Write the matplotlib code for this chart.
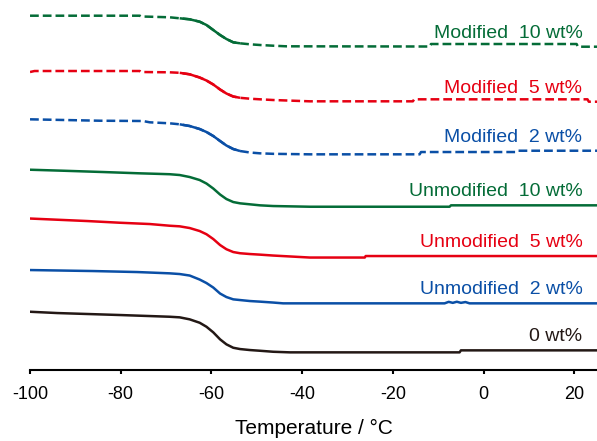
import matplotlib
matplotlib.use('Agg')
import matplotlib.pyplot as plt

plt.rcParams['font.family'] = ['Liberation Sans', 'DejaVu Sans']
plt.rcParams['axes.unicode_minus'] = False

# DSC traces, heat flow in arbitrary units (curves already offset)
t_0 = [-100, -94, -80, -73.6, -69.2, -67.0, -64.8, -62.6, -61.1, -59.6,
       -58.1, -56.7, -55.2, -53.7, -51.5, -49.3, -46.4, -42.7, -5.3, -5.0, 25]
hf_0 = [88.3, 87, 85, 84, 83.3, 82.7, 80.7, 77.3, 73.3, 67.7,
        60.7, 55.7, 52.3, 51, 50, 49.3, 48.3, 47.7, 47.7, 49.7, 49.7]

t_un2 = [-100, -86.1, -76.4, -73.6, -69.2, -67.0, -64.8, -62.6, -61.1, -59.6,
         -58.1, -56.7, -55.2, -53.7, -51.5, -49.3, -46.4, -44.2,
         -8.6, -7.7, -6.8, -5.9, -5.0, -4.0, -3.1, 25]
hf_un2 = [130, 129, 128, 127.5, 126.7, 126, 124.5, 120.5, 117, 112.5,
          106.5, 103, 100.7, 100, 99, 98.4, 97.5, 96.7,
          96.7, 98.2, 97.2, 98.3, 97.2, 98.0, 96.7, 96.7]

t_un5 = [-100, -87.4, -80.2, -73.6, -69.2, -67.0, -64.8, -62.6, -61.1, -59.6,
         -58.1, -56.7, -55.2, -53.7, -51.5, -49.3, -46.4, -38.3, -26.2, -26.0,
         25]
hf_un5 = [181.5, 179, 177.3, 176, 174.3, 173.7, 172, 169, 165.8, 161,
          155, 150.8, 148, 146.8, 146, 145.4, 144.5, 142.5, 142.5, 144,
          144]

t_un10 = [-100, -92.7, -83.9, -75.8, -72.0, -69.2, -67.0, -64.8, -62.6, -61.1,
          -59.6, -58.1, -56.7, -55.2, -53.7, -51.5, -49.3, -46.4, -38.3, -7.5,
          -7.2, 25]
hf_un10 = [230.3, 229.3, 228, 226.7, 226.2, 225.8, 225, 223, 220, 216.5,
           211.5, 205.5, 201, 198, 196.7, 195.7, 194.7, 194, 193.3, 193.3,
           194.7, 194.7]

t_mod2 = [-100, -84.6, -75.1, -73.6, -69.2, -67.0, -64.8, -62.6, -61.1, -59.6,
          -58.1, -56.7, -55.2, -53.7, -51.5, -49.3, -46.4, -38.3, -14.1, -13.8,
          7.3, 7.6, 25]
hf_mod2 = [280.7, 279.3, 279, 277.7, 276.7, 275.7, 274, 271, 268, 264,
           259, 254.5, 251, 249, 247.5, 246.7, 246.2, 245.7, 245.7, 248,
           248, 249.3, 249.3]

t_mod5 = [-100, -99, -75.8, -75.5, -69.2, -67.0, -64.8, -62.6, -61.1, -59.6,
          -58.1, -56.7, -55.2, -53.7, -51.5, -49.3, -46.4, -38.3, -15.6, -15.3,
          22.9, 23.2, 25]
hf_mod5 = [328, 329, 329, 328, 327.7, 327.2, 325.7, 322.5, 319.5, 315.5,
           310.5, 306.5, 303.5, 302.2, 301.3, 300.7, 300, 298.7, 298.7, 300.7,
           300.7, 298.3, 298.3]

t_mod10 = [-100, -75.8, -75.5, -73.6, -69.2, -67.0, -64.8, -62.6, -61.1, -59.6,
           -58.1, -56.7, -55.2, -53.7, -51.5, -49.3, -46.4, -43.5, -11.9, -11.6,
           20.5, 20.8, 25]
hf_mod10 = [384.3, 384.3, 383.5, 383.3, 382.7, 381.7, 380.7, 378.3, 375, 370,
            365, 361, 357.7, 356.7, 355.7, 355, 354.3, 353.7, 353.5, 356,
            356, 353.3, 353.3]

labels = ['0 wt%', 'Unmodified  2 wt%', 'Unmodified  5 wt%',
          'Unmodified  10 wt%', 'Modified  2 wt%', 'Modified  5 wt%',
          'Modified  10 wt%']

black = '#231815'
blue = '#0a4fa6'
red = '#e60012'
green = '#046c37'

curves = [
    (t_0, hf_0, black, '-'),
    (t_un2, hf_un2, blue, '-'),
    (t_un5, hf_un5, red, '-'),
    (t_un10, hf_un10, green, '-'),
    (t_mod2, hf_mod2, blue, '--'),
    (t_mod5, hf_mod5, red, '--'),
    (t_mod10, hf_mod10, green, '--'),
]

fig = plt.figure(figsize=(5.97, 4.41), dpi=100)
ax = fig.add_axes([0.0503, 0.162, 0.9497, 0.838])

for (t, hf, color, ls), label in zip(curves, labels):
    if ls == '--':
        ax.plot(t, hf, color=color, lw=1.8, dashes=(3.5, 1.6))
        # the glass transition step is drawn continuous
        seg = [(x, y) for x, y in zip(t, hf) if -67.5 <= x <= -53.0]
        ax.plot([p[0] for p in seg], [p[1] for p in seg], color=color,
                lw=1.8, solid_capstyle='butt')
    else:
        ax.plot(t, hf, color=color, lw=1.8)
    ax.text(21.8, hf[-1] + 9, label, color=color, fontsize=14,
            ha='right', va='baseline')

ax.set_xlim(-100, 25)
ax.set_ylim(30.5, 400)
ax.set_xticks([-100, -80, -60, -40, -20, 0, 20])
ax.set_yticks([])
for side in ['top', 'right', 'left']:
    ax.spines[side].set_visible(False)
ax.spines['bottom'].set_linewidth(1.5)
ax.tick_params(axis='x', direction='out', length=3, width=1.5, pad=9,
               labelsize=13)
ax.set_xlabel('Temperature / °C', fontsize=15, labelpad=11)

fig.savefig('out.png', dpi=100)
